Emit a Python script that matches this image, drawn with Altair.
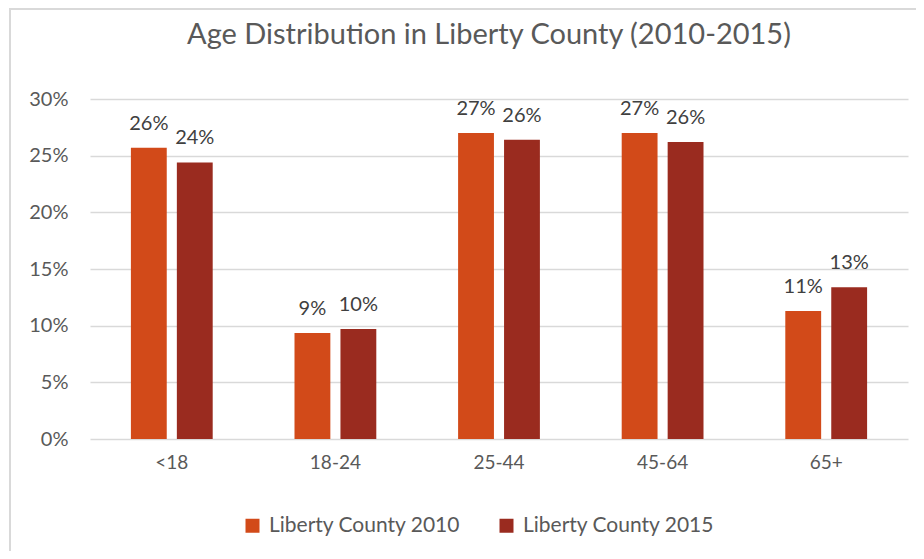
import altair as alt
import pandas as pd

categories = ["<18", "18-24", "25-44", "45-64", "65+"]
series_names = ["Liberty County 2010", "Liberty County 2015"]
values_2010 = [0.257, 0.0935, 0.270, 0.270, 0.113]
values_2015 = [0.244, 0.097, 0.264, 0.262, 0.134]
colors = ["#D24A19", "#9A2B1F"]

rows = []
for c, a, b in zip(categories, values_2010, values_2015):
    rows.append({"age": c, "series": series_names[0], "value": a})
    rows.append({"age": c, "series": series_names[1], "value": b})
df = pd.DataFrame(rows)

FONT = "Lato"
W, H = 818, 340

base = alt.Chart(df).encode(
    x=alt.X("age:N", sort=categories, title=None,
            scale=alt.Scale(paddingInner=0.5, paddingOuter=0.25),
            axis=alt.Axis(labelAngle=0, labelFontSize=19, labelColor="#595959",
                          labelFont=FONT, domain=False, ticks=False, labelPadding=14)),
    xOffset=alt.XOffset("series:N", sort=series_names,
                        scale=alt.Scale(paddingInner=0.22, paddingOuter=0)),
)

bars = base.mark_bar().encode(
    y=alt.Y("value:Q", title=None,
            scale=alt.Scale(domain=[0, 0.30], nice=False),
            axis=alt.Axis(format=".0%", values=[0, 0.05, 0.10, 0.15, 0.20, 0.25, 0.30],
                          labelFontSize=20, labelColor="#595959", labelFont=FONT,
                          domain=False, ticks=False, labelPadding=22,
                          gridColor="#D9D9D9", gridWidth=1.5)),
    color=alt.Color("series:N", sort=series_names,
                    scale=alt.Scale(domain=series_names, range=colors),
                    legend=alt.Legend(title=None, orient="none", direction="horizontal",
                                      legendX=152, legendY=416,
                                      symbolType="square", symbolSize=196,
                                      symbolStrokeWidth=0, labelFontSize=21,
                                      labelFont=FONT, labelColor="#595959",
                                      labelLimit=400,
                                      labelOffset=6, columnPadding=35)),
)

labels = base.mark_text(dy=-18, baseline="alphabetic", fontSize=20, font=FONT,
                        color="#404040").encode(
    y=alt.Y("value:Q"),
    text=alt.Text("value:Q", format=".0%"),
)

border = alt.Chart(df).mark_rect(fill=None, stroke="#D9D9D9", strokeWidth=2).encode(
    x=alt.value(-80), x2=alt.value(W + 40),
    y=alt.value(-90), y2=alt.value(H + 140),
)

chart = alt.layer(bars, labels, border).properties(
    width=W, height=H,
    title=alt.Title("Age Distribution in Liberty County (2010-2015)",
                    fontSize=29, font=FONT, fontWeight="normal", color="#595959",
                    offset=-42, dx=-10),
    autosize=alt.AutoSizeParams(type="none"),
    padding={"left": 82, "top": 91, "right": 8, "bottom": 112},
).configure_view(stroke=None)

chart.save("out.html", embed_options={"renderer": "svg", "actions": False})
